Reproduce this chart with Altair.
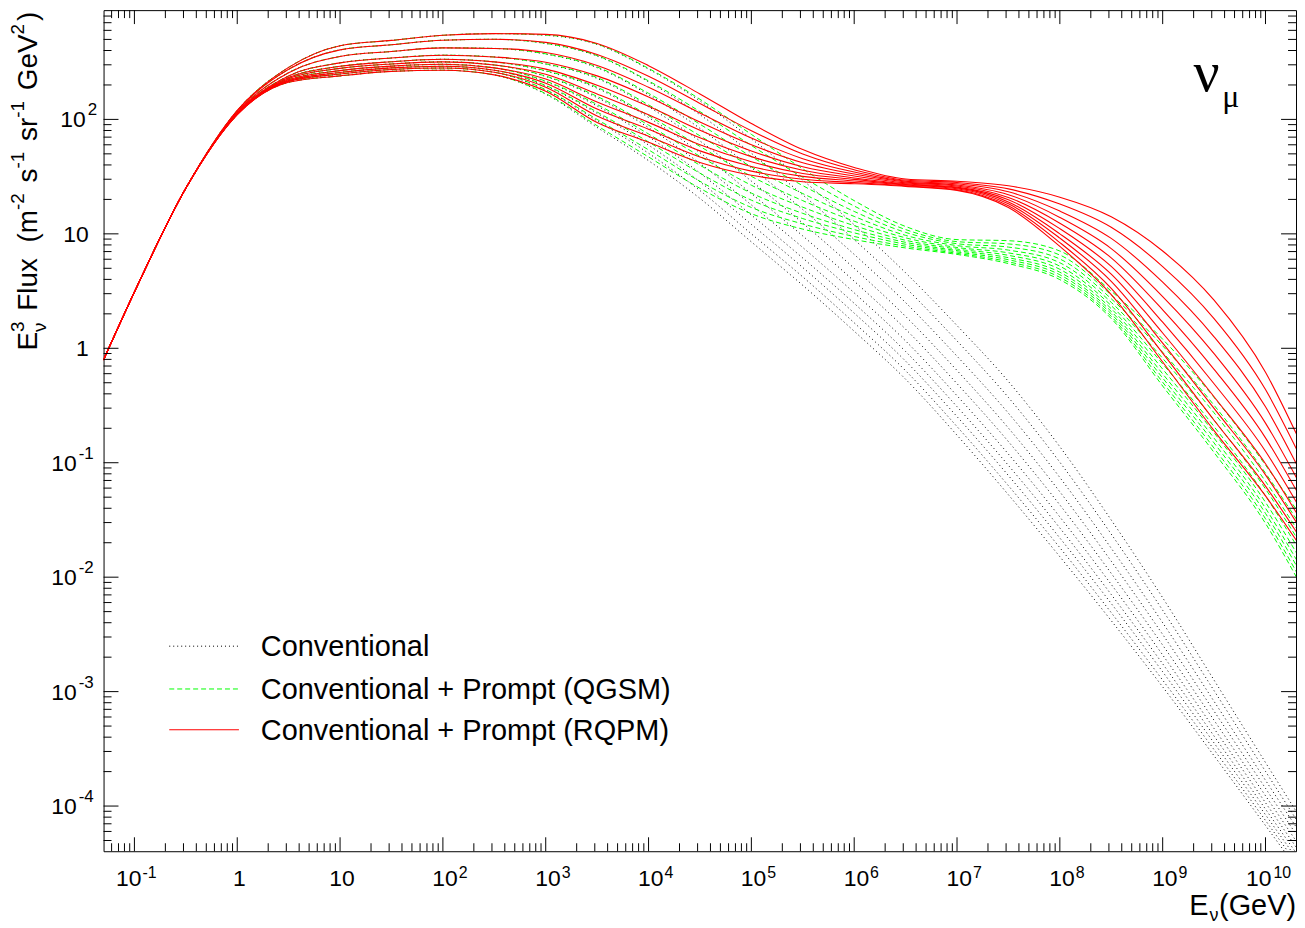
import altair as alt
import pandas as pd

# ---------------- data ----------------
ENERGY_GEV = [0.05, 0.1, 0.316, 1.0, 3.16, 10.0, 31.6, 100.0, 316.0,
              1.0e3, 3.16e3, 1.0e4, 3.16e4, 1.0e5, 3.16e5, 1.0e6, 3.16e6,
              1.0e7, 3.16e7, 1.0e8, 3.16e8, 1.0e9, 3.16e9, 1.0e10, 2.0e10]

# ten zenith-angle curves per model (index 0 = top / near-horizontal ... 9 = bottom / vertical)
CURVE_ID = ["c0", "c1", "c2", "c3", "c4", "c5", "c6", "c7", "c8", "c9"]

# E^3 flux below 1 TeV: the three models coincide (one row per energy, one column per curve)
SHARED_LOW_E = [
    [0.79, 0.79, 0.79, 0.79, 0.79, 0.79, 0.79, 0.79, 0.79, 0.79],
    [3.1, 3.1, 3.1, 3.1, 3.1, 3.1, 3.1, 3.1, 3.1, 3.1],
    [25, 25, 25, 25, 25, 25, 25, 25, 25, 25],
    [120, 119, 116, 114, 113, 112, 111, 111, 110, 110],
    [285, 274, 256, 240, 232, 227, 222, 218, 215, 211],
    [440, 405, 355, 312, 291, 279, 267, 257, 249, 240],
    [490, 449, 392, 344, 319, 305, 292, 282, 273, 263],
    [543, 492, 422, 364, 335, 318, 303, 291, 281, 269],
    [562, 501, 417, 351, 318, 299, 282, 269, 258, 245],
]

CONVENTIONAL_HIGH_E = [
    [543, 460, 372, 304, 264, 237, 214, 196, 180, 166],
    [452, 358, 283, 228, 187, 155, 131, 113, 97.2, 85.1],
    [275, 213, 164, 129, 104, 84.7, 70.5, 59.7, 50.6, 43.6],
    [145, 110, 83.6, 64.8, 51.2, 41.3, 34.0, 28.5, 23.9, 20.4],
    [67.6, 50.6, 37.8, 28.9, 22.5, 17.9, 14.6, 12.1, 10.0, 8.51],
    [29.5, 21.9, 16.3, 12.4, 9.59, 7.60, 6.15, 5.08, 4.21, 3.55],
    [12.0, 8.91, 6.61, 5.00, 3.86, 3.05, 2.47, 2.03, 1.67, 1.41],
    [4.57, 3.39, 2.51, 1.90, 1.47, 1.16, 0.938, 0.773, 0.637, 0.537],
    [1.58, 1.16, 0.853, 0.640, 0.491, 0.385, 0.309, 0.253, 0.207, 0.174],
    [0.513, 0.372, 0.271, 0.201, 0.153, 0.119, 0.0948, 0.0773, 0.0630, 0.0525],
    [0.138, 0.101, 0.0743, 0.0557, 0.0428, 0.0336, 0.0269, 0.0220, 0.0181, 0.0151],
    [0.0316, 0.0238, 0.0179, 0.0138, 0.0108, 0.00865, 0.00706, 0.00589, 0.00490, 0.00417],
    [0.00661, 0.00514, 0.00400, 0.00316, 0.00255, 0.00209, 0.00175, 0.00149, 0.00126, 0.00110],
    [1.26e-3, 1.02e-3, 8.22e-4, 6.75e-4, 5.62e-4, 4.76e-4, 4.09e-4, 3.56e-4, 3.11e-4, 2.75e-4],
    [2.40e-4, 2.01e-4, 1.68e-4, 1.43e-4, 1.23e-4, 1.07e-4, 9.40e-5, 8.39e-5, 7.48e-5, 6.76e-5],
    [8.91e-5, 7.60e-5, 6.50e-5, 5.61e-5, 4.90e-5, 4.33e-5, 3.86e-5, 3.49e-5, 3.16e-5, 2.88e-5],
]

QGSM_HIGH_E = [
    [546, 462, 374, 306, 266, 239, 216, 198, 182, 168],
    [455, 361, 287, 232, 191, 159, 135, 116, 100, 88.1],
    [279, 217, 169, 134, 108, 89.1, 74.6, 63.5, 54.2, 47.0],
    [150, 117, 90.8, 71.9, 58.1, 47.6, 39.8, 33.9, 28.8, 25.0],
    [74.0, 59.2, 47.3, 38.5, 31.8, 26.6, 22.7, 19.7, 17.0, 15.0],
    [37.0, 31.2, 26.4, 22.5, 19.5, 17.1, 15.1, 13.6, 12.2, 11.0],
    [19.5, 17.5, 15.7, 14.2, 12.9, 11.8, 10.9, 10.2, 9.48, 8.91],
    [11.6, 10.9, 10.3, 9.70, 9.23, 8.79, 8.43, 8.11, 7.80, 7.53],
    [8.91, 8.55, 8.20, 7.89, 7.60, 7.36, 7.14, 6.95, 6.76, 6.61],
    [8.71, 8.17, 7.66, 7.21, 6.82, 6.49, 6.19, 5.94, 5.70, 5.50],
    [7.08, 6.53, 6.03, 5.59, 5.22, 4.90, 4.62, 4.39, 4.17, 3.98],
    [3.16, 2.92, 2.71, 2.52, 2.36, 2.22, 2.10, 2.00, 1.90, 1.82],
    [1.20, 1.05, 0.923, 0.817, 0.730, 0.658, 0.598, 0.550, 0.505, 0.468],
    [0.372, 0.318, 0.273, 0.236, 0.207, 0.183, 0.164, 0.149, 0.134, 0.123],
    [0.0955, 0.0811, 0.0687, 0.0590, 0.0513, 0.0451, 0.0401, 0.0361, 0.0324, 0.0295],
    [0.0389, 0.0321, 0.0266, 0.0223, 0.0189, 0.0163, 0.0142, 0.0126, 0.0111, 0.0100],
]

RQPM_HIGH_E = [
    [553, 471, 384, 316, 275, 248, 225, 207, 191, 176],
    [461, 369, 296, 240, 199, 167, 142, 123, 107, 94.0],
    [295, 238, 191, 157, 130, 110, 94.2, 82.0, 71.4, 63.1],
    [167, 138, 114, 94.8, 80.4, 69.0, 60.1, 53.1, 46.9, 42.0],
    [92.0, 79.6, 68.7, 60.1, 53.0, 47.3, 42.7, 38.8, 35.3, 32.5],
    [54.5, 49.8, 45.4, 41.8, 38.6, 36.0, 33.7, 31.8, 30.0, 28.5],
    [38.0, 36.3, 34.7, 33.3, 32.0, 30.8, 29.9, 29.0, 28.1, 27.4],
    [30.1, 29.5, 28.9, 28.4, 27.9, 27.4, 27.0, 26.7, 26.3, 26.0],
    [28.8, 28.1, 27.4, 26.7, 26.2, 25.6, 25.2, 24.8, 24.3, 24.0],
    [26.3, 24.7, 23.3, 22.0, 20.8, 19.9, 19.0, 18.3, 17.6, 17.0],
    [20.9, 18.2, 15.8, 13.9, 12.4, 11.1, 10.0, 9.18, 8.39, 7.76],
    [14.1, 11.4, 9.12, 7.43, 6.17, 5.19, 4.44, 3.85, 3.34, 2.95],
    [7.08, 5.18, 3.78, 2.83, 2.17, 1.69, 1.36, 1.11, 0.908, 0.759],
    [2.63, 1.82, 1.26, 0.897, 0.655, 0.490, 0.377, 0.298, 0.235, 0.191],
    [0.617, 0.436, 0.308, 0.222, 0.165, 0.126, 0.0979, 0.0783, 0.0625, 0.0513],
    [0.178, 0.132, 0.0977, 0.0740, 0.0571, 0.0452, 0.0365, 0.0301, 0.0248, 0.0209],
]

MODELS = ["Conventional", "Conventional + Prompt (QGSM)", "Conventional + Prompt (RQPM)"]

X_RANGE = [0.0501, 1.98e10]
Y_RANGE = [4.03e-5, 901.0]
X_MAJOR = [1e-1, 1, 1e1, 1e2, 1e3, 1e4, 1e5, 1e6, 1e7, 1e8, 1e9, 1e10]
Y_MAJOR = [1e-4, 1e-3, 1e-2, 1e-1, 1, 1e1, 1e2]
X_LABELS = [(1e-1, "10", "-1"), (1, "1", ""), (1e1, "10", ""), (1e2, "10", "2"),
            (1e3, "10", "3"), (1e4, "10", "4"), (1e5, "10", "5"), (1e6, "10", "6"),
            (1e7, "10", "7"), (1e8, "10", "8"), (1e9, "10", "9"), (1e10, "10", "10")]
Y_LABELS = [(1e-4, "10", "-4"), (1e-3, "10", "-3"), (1e-2, "10", "-2"), (1e-1, "10", "-1"),
            (1, "1", ""), (1e1, "10", ""), (1e2, "10", "2")]

# ---------------- build table ----------------
rows = []
for model, high in zip(MODELS, [CONVENTIONAL_HIGH_E, QGSM_HIGH_E, RQPM_HIGH_E]):
    table = SHARED_LOW_E + high
    for e, vals in zip(ENERGY_GEV, table):
        for cid, f in zip(CURVE_ID, vals):
            rows.append({"model": model, "curve": cid, "energy": e, "flux": f})
df = pd.DataFrame(rows)

W, H = 1198, 845
xs = alt.Scale(type="log", domain=X_RANGE, nice=False)
ys = alt.Scale(type="log", domain=Y_RANGE, nice=False)


def model_layer(model, color, width, dash=None):
    kw = dict(color=color, strokeWidth=width, clip=True, interpolate="monotone")
    if dash:
        kw["strokeDash"] = dash
    return alt.Chart(df[df.model == model]).mark_line(**kw).encode(
        x=alt.X("energy:Q", scale=xs, axis=None),
        y=alt.Y("flux:Q", scale=ys, axis=None),
        detail="curve:N",
    )


layers = [
    model_layer(MODELS[0], "black", 1, [1, 3]),
    model_layer(MODELS[1], "#00ff00", 1, [5, 3]),
    model_layer(MODELS[2], "#ff0000", 1.1),
]

# ---------------- ticks (ROOT style, inward on all four sides) ----------------
x_minor = [m * 10.0 ** k for k in range(-2, 11) for m in range(2, 10)
           if X_RANGE[0] <= m * 10.0 ** k <= X_RANGE[1]]
y_minor = [m * 10.0 ** k for k in range(-5, 3) for m in range(2, 10)
           if Y_RANGE[0] <= m * 10.0 ** k <= Y_RANGE[1] * 0.98]


def xtick(vals, y1, y2):
    return alt.Chart(pd.DataFrame({"v": vals})).mark_rule(color="black", strokeWidth=1).encode(
        x=alt.X("v:Q", scale=xs, axis=None), y=alt.value(y1), y2=alt.value(y2))


def ytick(vals, x1, x2):
    return alt.Chart(pd.DataFrame({"v": vals})).mark_rule(color="black", strokeWidth=1).encode(
        y=alt.Y("v:Q", scale=ys, axis=None), x=alt.value(x1), x2=alt.value(x2))


layers += [
    xtick(X_MAJOR, H, H - 14), xtick(x_minor, H, H - 8),
    xtick(X_MAJOR, 0, 14), xtick(x_minor, 0, 8),
    ytick(Y_MAJOR, 0, 15), ytick(y_minor, 0, 8),
    ytick(Y_MAJOR, W, W - 15), ytick(y_minor, W, W - 8),
]

# ---------------- tick labels ----------------
XB, XE = 23, 16   # base / exponent font sizes on x
YB, YE = 23, 17


def xlab(items, col, align, dx, yv, fs):
    d = pd.DataFrame({"v": [i[0] for i in items], "base": [i[1] for i in items], "exp": [i[2] for i in items]})
    return alt.Chart(d).mark_text(align=align, baseline="alphabetic", dx=dx, fontSize=fs, color="black").encode(
        x=alt.X("v:Q", scale=xs, axis=None), y=alt.value(yv), text=f"{col}:N")


def ylab(items, col, align, xv, dy, fs):
    d = pd.DataFrame({"v": [i[0] for i in items], "base": [i[1] for i in items], "exp": [i[2] for i in items]})
    return alt.Chart(d).mark_text(align=align, baseline="alphabetic", dy=dy, fontSize=fs, color="black").encode(
        y=alt.Y("v:Q", scale=ys, axis=None), x=alt.value(xv), text=f"{col}:N")


x_plain = [l for l in X_LABELS if l[2] == ""]
x_neg = [l for l in X_LABELS if l[2].startswith("-")]
x_pos = [l for l in X_LABELS if l[2] != "" and not l[2].startswith("-") and len(l[2]) == 1]
x_two = [l for l in X_LABELS if l[2] != "" and not l[2].startswith("-") and len(l[2]) == 2]
layers += [
    xlab(x_plain, "base", "center", 2, H + 35, XB),
    xlab(x_neg, "base", "right", 7, H + 35, XB), xlab(x_neg, "exp", "left", 8, H + 27, XE),
    xlab(x_pos, "base", "right", 15, H + 35, XB), xlab(x_pos, "exp", "left", 16, H + 27, XE),
    xlab(x_two, "base", "right", 6, H + 35, XB), xlab(x_two, "exp", "left", 8, H + 27, XE),
]

y_plain = [l for l in Y_LABELS if l[2] == ""]
y_neg = [l for l in Y_LABELS if l[2].startswith("-")]
y_pos = [l for l in Y_LABELS if l[2] != "" and not l[2].startswith("-")]
layers += [
    ylab(y_plain, "base", "right", -15, 8, YB),
    ylab(y_neg, "base", "right", -27, 8, YB), ylab(y_neg, "exp", "left", -25, -4, YE),
    ylab(y_pos, "base", "right", -18, 8, YB), ylab(y_pos, "exp", "left", -16, -4, YE),
]


# ---------------- free text ----------------
def note(text, x, y, fs, align="left", angle=None, font=None):
    kw = dict(align=align, baseline="alphabetic", fontSize=fs, color="black")
    if angle is not None:
        kw["angle"] = angle
    if font:
        kw["font"] = font
    return alt.Chart(pd.DataFrame({"t": [text]})).mark_text(**kw).encode(
        x=alt.value(x), y=alt.value(y), text="t:N")


# legend (drawn inside the frame, ROOT style)
LEG_Y = [639, 682, 723]
layers += [
    alt.Chart(pd.DataFrame({"t": [MODELS[0]]})).mark_rule(color="black", strokeWidth=1, strokeDash=[1, 3]).encode(
        x=alt.value(66), x2=alt.value(136), y=alt.value(LEG_Y[0])),
    alt.Chart(pd.DataFrame({"t": [MODELS[1]]})).mark_rule(color="#00ff00", strokeWidth=1, strokeDash=[5, 3]).encode(
        x=alt.value(66), x2=alt.value(136), y=alt.value(LEG_Y[1])),
    alt.Chart(pd.DataFrame({"t": [MODELS[2]]})).mark_rule(color="#ff0000", strokeWidth=1.1).encode(
        x=alt.value(66), x2=alt.value(136), y=alt.value(LEG_Y[2])),
]
for name, yc in zip(MODELS, LEG_Y):
    layers.append(note(name, 158, yc + 10, 29))

# nu_mu label
layers += [
    note("ν", 1095, 81, 58, font="Liberation Serif"),
    note("μ", 1124, 97, 32, font="Liberation Serif"),
]

# x-axis title  E_nu(GeV)
layers += [
    note("(GeV)", W, 909, 29, align="right"),
    note("E", 1110, 909, 29, align="right"),
    note("ν", 1111, 915, 18),
]

# y-axis title, rotated, assembled from pieces (main text, superscripts, subscripts)
M, S = 28, 19
WID = {"E": .667, "F": .611, "l": .222, "u": .556, "x": .5, "(": .333, "m": .833, "-": .333,
       "2": .556, "s": .5, "1": .556, "r": .333, "G": .778, "e": .556, "V": .667, ")": .333,
       "3": .556, "ν": .52}
SP = 0.278 * M
TITLE_PARTS = [("E", "main", 0), ("3", "sup", 0), ("ν", "sub", -1), ("Flux", "main", 1),
               ("(m", "main", 2), ("-2", "sup", 0), ("s", "main", 1), ("-1", "sup", 0),
               ("sr", "main", 1), ("-1", "sup", 0), ("GeV", "main", 1), ("2", "sup", 0),
               (")", "main", 0)]
BASE_X = {"main": -67, "sup": -80, "sub": -58}
Y0 = 342
pos, prev_start, prev_w = 0.0, 0.0, 0.0
for text, kind, gap in TITLE_PARTS:
    fs = M if kind == "main" else S
    w = fs * sum(WID[c] for c in text)
    if gap == -1:
        start = prev_start
        w = max(w, prev_w)
    else:
        start = pos + gap * SP
    layers.append(note(text, BASE_X[kind], Y0 - start, fs, angle=270))
    extra = 3 if kind != "main" else 0
    pos = start + w + extra
    prev_start, prev_w = start, w

chart = alt.layer(*layers).properties(
    width=W, height=H,
    padding={"left": 96, "top": 0, "right": 1, "bottom": 80},
    autosize=alt.AutoSizeParams(type="none"),
).configure(font="Liberation Sans").configure_view(stroke="black", strokeWidth=1)

chart.save("out.html", embed_options={"renderer": "svg", "actions": False})
